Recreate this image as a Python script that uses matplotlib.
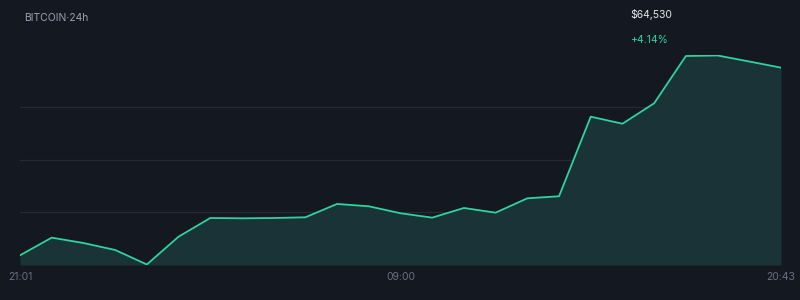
#!/usr/bin/env python3

from matplotlib import pyplot as plt

plt.rcParams['font.family'] = ['Inter', 'DejaVu Sans']

# hourly prices over the last 24h
hours = list(range(25))
prices = [61974, 62215, 62142, 62047, 61849, 62228, 62483, 62479, 62483,
          62493, 62675, 62643, 62548, 62488, 62620, 62556, 62752, 62780,
          63866, 63770, 64049, 64694, 64701, 64619, 64535]
tick_pos = [0, 12, 24]
tick_labels = ['21:01', '09:00', '20:43']
y_lo, y_hi = 61842, 64708

bg = '#141821'
line_col = '#2ed3a0'

fig = plt.figure(figsize=(8, 3), dpi=100, facecolor=bg)
ax = fig.add_axes([0.025, 0.1167, 0.95125, 0.7])
ax.set_facecolor(bg)

ax.fill_between(hours, prices, y_lo, color='#1a3336', linewidth=0)
ax.plot(hours, prices, color=line_col, linewidth=1.3)

ax.set_xlim(0, 24)
ax.set_ylim(y_lo, y_hi)
rng = y_hi - y_lo
ax.set_yticks([y_lo + rng * f for f in (0.25, 0.5, 0.75)])
ax.yaxis.grid(True, color='#262a34', linewidth=0.9)
ax.set_axisbelow(True)
ax.tick_params(axis='y', left=False, labelleft=False)
ax.set_xticks(tick_pos)
ax.set_xticklabels(tick_labels)
ax.tick_params(axis='x', length=0, pad=5, labelsize=7.5, colors='#6b7080')
for s in ax.spines.values():
    s.set_visible(False)

fig.text(24 / 800, 1 - 18 / 300, 'BITCOIN\u00b724h', color='#9aa0b0',
         fontsize=7.5, va='center', ha='left')
fig.text(630 / 800, 1 - 15 / 300, '$64,530', color='#e6e8ee',
         fontsize=7.5, va='center', ha='left')
fig.text(630 / 800, 1 - 40 / 300, '+4.14%', color='#2ed3a0',
         fontsize=7.5, va='center', ha='left')

plt.savefig('out.png', dpi=100, facecolor=bg)
